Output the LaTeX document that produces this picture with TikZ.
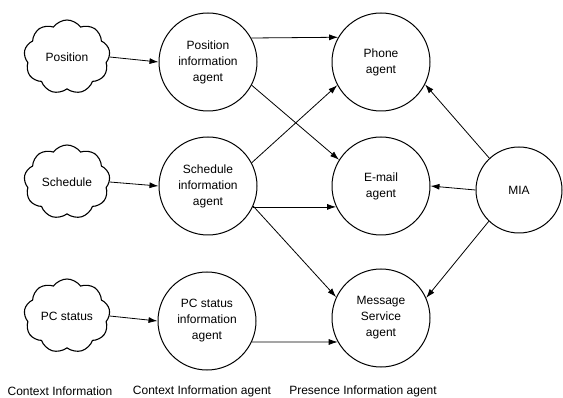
\documentclass[tikz,border=0pt]{standalone}
\usepackage{fontspec}
\setmainfont{Liberation Sans}
\usetikzlibrary{shapes.symbols,arrows.meta}
\begin{document}
\begin{tikzpicture}[x=1pt,y=-1pt,
  every node/.style={font=\fontsize{12}{16}\selectfont, align=center},
  agent/.style={circle, draw, line width=1pt, minimum size=98pt, inner sep=0pt},
  ctx/.style={cloud, draw, line width=1.1pt, cloud puffs=9, cloud puff arc=110, cloud ignores aspect, minimum width=86pt, minimum height=74pt, inner sep=2pt},
  arr/.style={line width=0.8pt, -{Latex[length=9pt,width=6pt]}},
  lbl/.style={font=\fontsize{12}{14}\selectfont}]
\useasboundingbox (0,0) rectangle (563,398);
% clouds
\node[ctx] (c1) at (67,57) {Position};
\node[ctx] (c2) at (67,182) {Schedule};
\node[ctx] (c3) at (67,316) {PC status};
% context information agents
\node[agent] (a1) at (208,62) {Position\\information\\agent};
\node[agent] (a2) at (208,186) {Schedule\\information\\agent};
\node[agent] (a3) at (207,321) {PC status\\information\\agent};
% presence agents
\node[agent] (p1) at (381,62) {Phone\\agent};
\node[agent] (p2) at (381,186) {E-mail\\agent};
\node[agent] (p3) at (381,318) {Message\\Service\\agent};
\node[agent, minimum size=86pt] (mia) at (519,190) {MIA};
% arrows
\draw[arr] (c1.east) -- (a1.west);
\draw[arr] (c2.east) -- (a2.west);
\draw[arr] (c3.east) -- (a3.west);
\draw[arr] (a1.29.3) -- (p1.150.7);
\draw[arr] (a1.-28) -- (p2.148);
\draw[arr] (a2.28.6) -- (p1.208);
\draw[arr] (a2.-25) -- (p2.205);
\draw[arr] (a2.-24) -- (p3.155);
\draw[arr] (a3.-25) -- (p3.209);
\draw[arr] (mia.133) -- (p1.-27.6);
\draw[arr] (mia.180) -- (p2.0);
\draw[arr] (mia.226) -- (p3.24.4);
% bottom labels
\node[lbl] (l1) at (60,391) {Context Information};
\node[lbl] (l2) at (202,391) {Context Information agent};
\node[lbl] (l3) at (363,391) {Presence Information agent};
\end{tikzpicture}
\end{document}
